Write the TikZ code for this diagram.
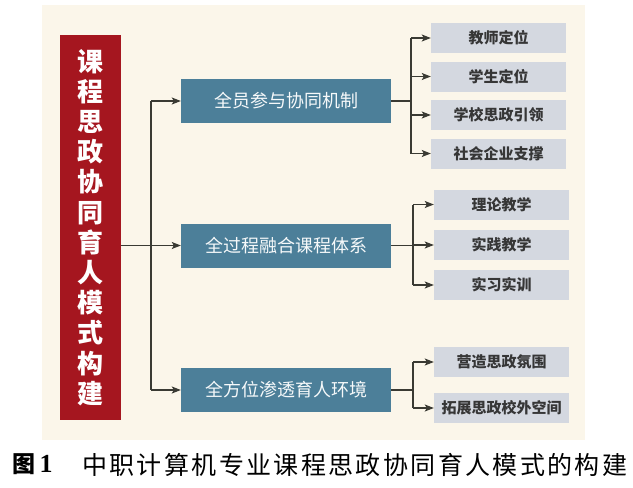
\documentclass[tikz,border=0pt]{standalone}
\usepackage{fontspec}
\newfontfamily\cjk{Noto Sans CJK SC}
\newfontfamily\capcjk[LetterSpace=9.5]{Noto Sans CJK SC}
\newfontfamily\capserif{Liberation Serif}
\usetikzlibrary{arrows.meta,calc}
\definecolor{cream}{HTML}{FBF6EA}
\definecolor{myred}{HTML}{A5161F}
\definecolor{myblue}{HTML}{4C7F99}
\definecolor{mygray}{HTML}{D4D8E0}
\definecolor{txtgray}{HTML}{363636}
\definecolor{lncol}{HTML}{3A3A33}
\begin{document}
\begin{tikzpicture}[x=1pt,y=-1pt,
  redbox/.style={fill=myred, minimum width=61pt, minimum height=385pt, inner sep=0pt,
    text=white, align=center, font=\cjk\bfseries\fontsize{26}{30.2}\selectfont},
  bluebox/.style={fill=myblue, minimum width=210pt, minimum height=44pt, inner sep=0pt,
    text=white!95!myblue, font=\cjk\fontsize{18}{20}\selectfont},
  graybox/.style={fill=mygray, minimum width=135pt, minimum height=30pt, inner sep=0pt,
    text=txtgray, font=\cjk\bfseries\fontsize{15}{18}\selectfont},
  ln/.style={draw=lncol, line width=1.1pt},
  arr/.style={ln, -{Stealth[length=9pt,width=7pt,inset=2pt]}},
  captxt/.style={anchor=west, inner sep=0pt, text=black}
]
\useasboundingbox (0,0) rectangle (633,488);
\fill[white] (0,0) rectangle (633,488);
\fill[cream] (42,5) rectangle (585,440);

% main red box
\node[redbox] (red) at (90.5,227.5) {课\\程\\思\\政\\协\\同\\育\\人\\模\\式\\构\\建};

% blue boxes
\node[bluebox] (b1) at (286,101) {全员参与协同机制};
\node[bluebox] (b2) at (286,245.5) {全过程融合课程体系};
\node[bluebox] (b3) at (286,390) {全方位渗透育人环境};

% gray boxes group 1
\node[graybox] (g11) at (498.5,38) {教师定位};
\node[graybox] (g12) at (498.5,76.5) {学生定位};
\node[graybox] (g13) at (498.5,115) {学校思政引领};
\node[graybox] (g14) at (498.5,153.5) {社会企业支撑};
% group 2
\node[graybox] (g21) at (501.5,204.5) {理论教学};
\node[graybox] (g22) at (501.5,245) {实践教学};
\node[graybox] (g23) at (501.5,285) {实习实训};
% group 3
\node[graybox] (g31) at (501.5,362) {营造思政氛围};
\node[graybox] (g32) at (501.5,408) {拓展思政校外空间};

% trunk from red box
\coordinate (j) at (151,245.5);
\draw[ln, line width=1.8pt] (red.east |- j) -- (j);
\draw[ln] (j |- b1.west) -- (j |- b3.west);
\draw[arr] (j |- b1.west) -- (b1.west);
\draw[arr] (j) -- (b2.west);
\draw[arr] (j |- b3.west) -- (b3.west);

% group 1 connectors
\coordinate (k1) at (411,101);
\draw[ln] (b1.east) -- (k1);
\draw[ln] (k1 |- g11.west) -- (k1 |- g14.west);
\foreach \g in {g11,g12,g13,g14} \draw[arr] (k1 |- \g.west) -- (\g.west);

% group 2 connectors
\coordinate (k2) at (413,245.5);
\draw[ln] (b2.east) -- (k2);
\draw[ln] (k2 |- g21.west) -- (k2 |- g23.west);
\foreach \g in {g21,g22,g23} \draw[arr] (k2 |- \g.west) -- (\g.west);

% group 3 connectors
\coordinate (k3) at (413,390);
\draw[ln] (b3.east) -- (k3);
\draw[ln] (k3 |- g31.west) -- (k3 |- g32.west);
\foreach \g in {g31,g32} \draw[arr] (k3 |- \g.west) -- (\g.west);

% caption
\node[captxt] (fignum) at (12,464.5) {{\cjk\bfseries\fontsize{23}{26}\selectfont 图}{\capserif\bfseries\fontsize{26}{28}\selectfont\,1}};
\node[captxt] (title) at (82,464.5) {\capcjk\fontsize{25}{28}\selectfont 中职计算机专业课程思政协同育人模式的构建};
\end{tikzpicture}
\end{document}
